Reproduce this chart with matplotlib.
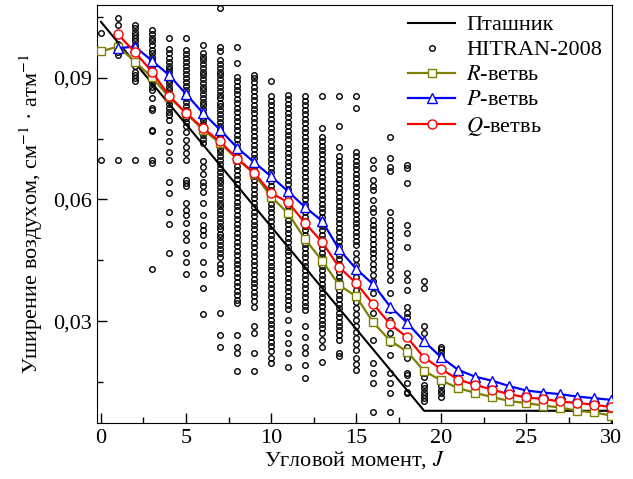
import numpy as np
import matplotlib
matplotlib.use('Agg')
import matplotlib.pyplot as plt
from matplotlib.ticker import MultipleLocator, FuncFormatter

plt.rcParams['font.family'] = ['Liberation Serif', 'DejaVu Serif']
plt.rcParams['mathtext.fontset'] = 'stix'
plt.rcParams['font.size'] = 16

# Пташник (model), values in 1e-3 cm-1 atm-1
ptash_j = [0, 19, 30]
ptash_g = [103.8, 7.9, 7.9]

# branches
r_j = list(range(0, 31))
r_g = [96.5, 97.7, 94.0, 90.1, 85.3, 81.3, 77.2, 73.9, 70.0, 66.4, 60.7, 56.6, 50.2, 44.9, 38.9, 36.1,
       29.7, 25.2, 22.5, 17.7, 15.4, 13.5, 12.3, 11.3, 10.3, 9.8, 9.2, 8.7, 7.9, 7.5, 6.7]
p_j = list(range(1, 31))
p_g = [97.3, 97.7, 94.2, 90.7, 86.0, 81.3, 77.2, 72.8, 69.2, 65.7, 62.0, 58.1, 54.7, 47.7, 42.9,
       39.1, 33.6, 29.6, 25.0, 21.1, 18.0, 16.3, 15.3, 14.0, 12.9, 12.4, 12.0, 11.4, 11.0, 10.6]
q_j = list(range(1, 31))
q_g = [100.7, 96.3, 91.5, 85.6, 81.3, 77.6, 74.3, 70.1, 66.6, 61.6, 59.3, 54.2, 49.5, 43.3, 39.4,
       34.2, 29.3, 26.0, 21.0, 18.2, 15.6, 14.3, 13.1, 12.0, 11.2, 10.8, 10.2, 9.8, 9.4, 8.8]

# HITRAN-2008 points, one list per J
hitran_00 = [101.0, 69.8]
hitran_01 = [104.7, 103.0, 98.4, 97.2, 96.3, 95.6, 69.8]
hitran_02 = [103.0, 102.2, 101.4, 100.6, 99.8, 99.0, 98.1, 97.3, 93.6, 92.8, 91.5, 90.7, 89.9, 89.1, 69.8]
hitran_03 = [101.8, 100.8, 99.8, 99.0, 98.1, 96.9, 96.1, 95.2, 94.4, 93.6, 92.8, 91.9, 91.1, 90.3, 89.5,
             88.6, 87.8, 87.0, 84.9, 82.5, 82.1, 77.2, 76.8, 69.8, 69.0, 42.8]
hitran_04 = [99.8, 97.0, 96.0, 95.0, 94.0, 93.0, 92.2, 91.4, 90.5, 89.5, 88.6, 87.8, 87.0, 86.1, 85.3,
             84.5, 83.5, 82.5, 81.6, 80.8, 79.6, 76.7, 74.5, 71.8, 69.8, 64.4, 61.6, 57.0, 53.9, 46.9]
hitran_05 = [99.8, 96.9, 95.9, 94.9, 93.9, 92.9, 91.9, 91.0, 90.0, 89.0, 88.0, 87.0, 86.0, 85.0, 84.0,
             83.0, 82.0, 81.0, 80.0, 79.0, 78.0, 76.7, 74.7, 73.0, 71.4, 69.8, 64.8, 64.0, 63.2, 59.2,
             57.3, 56.2, 54.2, 51.7, 49.9, 46.9, 44.7, 41.7]
hitran_06 = [98.1, 96.1, 95.2, 94.3, 93.3, 92.4, 91.5, 90.6, 89.6, 88.7, 87.8, 86.9, 85.9, 85.0, 84.1,
             83.2, 82.2, 81.3, 80.4, 79.5, 78.5, 77.6, 76.7, 75.8, 74.8, 73.9, 69.4, 68.0, 66.3, 64.2,
             63.4, 61.9, 59.2, 56.2, 53.7, 52.5, 51.3, 48.8, 44.7, 41.6, 38.1, 31.7]
hitran_07 = [107.2, 97.7, 96.5, 94.4, 93.4, 92.5, 91.5, 90.6, 89.6, 88.7, 87.7, 86.8, 85.8, 84.9, 83.9,
             83.0, 82.0, 81.1, 80.1, 79.2, 78.2, 77.3, 76.3, 75.4, 74.4, 73.5, 72.5, 71.6, 70.6, 69.7,
             68.7, 67.8, 66.8, 65.9, 64.9, 64.0, 63.0, 62.1, 61.1, 60.2, 59.2, 58.3, 57.3, 56.4, 55.4,
             54.5, 53.5, 52.6, 51.6, 50.7, 49.7, 48.8, 47.8, 46.9, 45.9, 44.0, 43.0, 41.9, 32.0, 26.6, 23.7]
hitran_08 = [97.7, 93.6, 90.3, 89.2, 88.1, 87.0, 85.9, 84.8, 83.7, 82.6, 81.5, 80.4, 79.3, 78.2, 77.1,
             76.0, 74.9, 73.8, 72.7, 71.6, 70.5, 69.4, 68.3, 67.2, 66.1, 65.0, 63.9, 62.8, 61.7, 60.6,
             59.5, 58.4, 57.3, 56.2, 55.1, 54.0, 52.9, 51.8, 50.7, 49.6, 48.5, 47.4, 46.3, 45.2, 44.1,
             43.0, 41.9, 40.8, 39.7, 38.6, 37.5, 36.4, 35.3, 34.4, 26.6, 23.7, 22.1, 17.6]
hitran_09 = [90.7, 90.0, 88.9, 87.8, 86.7, 85.6, 84.5, 83.4, 82.3, 81.2, 80.1, 79.0, 77.9, 76.8, 75.7,
             74.6, 73.5, 72.4, 71.3, 70.2, 69.1, 68.0, 66.9, 65.8, 64.7, 63.6, 62.5, 61.4, 60.3, 59.2,
             58.1, 57.0, 55.9, 54.8, 53.7, 52.6, 51.5, 50.4, 49.3, 48.2, 47.1, 46.0, 44.9, 43.8, 42.7,
             41.6, 40.5, 39.4, 38.3, 37.2, 36.1, 35.0, 33.6, 28.7, 27.0, 22.1, 17.6]
hitran_10 = [89.1, 85.4, 84.3, 83.2, 82.1, 81.0, 79.9, 78.8, 77.7, 76.6, 75.5, 74.4, 73.3, 72.2, 71.1,
             70.0, 68.9, 67.8, 66.7, 65.6, 64.5, 63.4, 62.3, 61.2, 60.1, 59.0, 57.9, 56.8, 55.7, 54.6,
             53.5, 52.4, 51.3, 50.2, 49.1, 48.0, 46.9, 45.8, 44.7, 43.6, 42.5, 41.4, 40.3, 39.2, 38.1,
             37.0, 35.9, 34.8, 33.7, 32.6, 31.5, 30.4, 29.3, 28.2, 27.1, 26.0, 24.9, 23.8, 22.7, 21.0, 19.7]
hitran_11 = [85.8, 84.7, 83.6, 82.5, 81.4, 80.3, 79.2, 78.1, 77.0, 75.9, 74.8, 73.7, 72.6, 71.5, 70.4,
             69.3, 68.2, 67.1, 66.0, 64.9, 63.8, 62.7, 61.6, 60.5, 59.4, 58.3, 57.2, 56.1, 55.0, 53.9,
             52.8, 51.7, 50.6, 49.5, 48.4, 47.3, 46.2, 45.1, 44.0, 42.9, 41.8, 40.7, 39.6, 38.5, 37.4,
             36.3, 35.2, 34.1, 33.0, 30.3, 27.1, 24.6, 22.2, 18.8]
hitran_12 = [85.4, 84.3, 83.2, 82.1, 81.0, 79.9, 78.8, 77.7, 76.6, 75.5, 74.4, 73.3, 72.2, 71.1, 70.0,
             68.9, 67.8, 66.7, 65.6, 64.5, 63.4, 62.3, 61.2, 60.1, 59.0, 57.9, 56.8, 55.7, 54.6, 53.5,
             52.4, 51.3, 50.2, 49.1, 48.0, 46.9, 45.8, 44.7, 43.6, 42.5, 41.4, 40.3, 39.2, 38.1, 37.0,
             35.9, 34.8, 33.7, 32.8, 28.7, 26.2, 23.7, 22.1, 19.2, 15.9]
hitran_13 = [85.4, 77.6, 75.5, 74.4, 73.3, 72.2, 71.1, 70.0, 68.9, 67.8, 66.7, 65.6, 64.5, 63.4, 62.3,
             61.2, 60.1, 59.0, 57.9, 56.8, 55.7, 54.6, 53.5, 52.4, 51.3, 50.2, 49.1, 48.0, 46.9, 45.8,
             44.7, 43.6, 42.5, 41.4, 40.3, 39.2, 38.1, 37.0, 35.9, 34.8, 33.7, 32.6, 31.5, 30.4, 29.3,
             28.2, 27.1, 25.4, 23.7, 20.0]
hitran_14 = [85.4, 78.0, 73.0, 70.6, 69.5, 68.4, 67.3, 66.2, 65.1, 64.0, 62.9, 61.8, 60.7, 59.6, 58.5,
             57.4, 56.3, 55.2, 54.1, 53.0, 51.9, 50.8, 49.7, 48.6, 47.5, 46.4, 45.3, 44.2, 43.1, 42.0,
             40.9, 39.8, 38.7, 37.6, 36.5, 35.4, 34.3, 33.2, 32.1, 31.0, 29.9, 28.8, 27.7, 26.6, 25.4,
             22.1, 21.3]
hitran_15 = [85.4, 82.5, 71.8, 70.7, 69.6, 68.5, 67.4, 66.3, 65.2, 64.1, 63.0, 61.9, 60.8, 59.7, 58.6,
             57.5, 56.4, 55.3, 54.2, 53.1, 52.0, 50.9, 49.8, 48.7, 46.8, 45.3, 43.8, 42.3, 40.8, 39.3,
             37.8, 36.3, 34.8, 33.3, 31.8, 30.3, 28.8, 27.3, 25.8, 24.3, 22.8, 21.0, 19.5, 18.0]
hitran_16 = [69.8, 67.7, 64.8, 63.2, 62.4, 59.9, 57.9, 56.8, 55.0, 53.8, 52.6, 51.4, 50.2, 49.0, 47.9,
             46.8, 45.6, 44.2, 42.8, 41.3, 39.8, 38.3, 36.9, 32.0, 25.4, 19.6, 17.2, 14.7, 7.5]
hitran_17 = [75.5, 70.2, 68.1, 66.9, 57.0, 55.0, 53.8, 52.5, 51.2, 50.0, 48.7, 47.4, 46.1, 44.8, 43.5,
             41.8, 40.2, 36.9, 32.8, 30.3, 27.0, 24.6, 21.7, 17.2, 14.7, 12.3, 7.5]
hitran_18 = [68.5, 67.7, 64.0, 53.7, 51.7, 48.4, 41.8, 40.2, 37.7, 33.6, 32.0, 31.1, 23.7, 22.5, 20.9,
             17.2, 16.8, 14.7, 12.6, 12.3]
hitran_19 = [39.8, 38.1, 28.7, 27.0, 17.2, 16.3, 14.3, 13.5, 12.6, 11.8, 11.0, 10.2]
hitran_20 = [23.7, 23.1, 22.5, 21.3, 13.9, 13.1, 12.3, 11.4]

hitran_cols = [hitran_00, hitran_01, hitran_02, hitran_03, hitran_04, hitran_05, hitran_06,
               hitran_07, hitran_08, hitran_09, hitran_10, hitran_11, hitran_12, hitran_13,
               hitran_14, hitran_15, hitran_16, hitran_17, hitran_18, hitran_19, hitran_20]
hx = []
hy = []
for j, col in enumerate(hitran_cols):
    hx += [j] * len(col)
    hy += col
hx = np.array(hx)
hy = np.array(hy) * 1e-3

fig = plt.figure(figsize=(6.33, 4.79), dpi=100)
ax = fig.add_axes([0.153, 0.117, 0.814, 0.873])

ax.plot(hx, hy, linestyle='none', marker='o', ms=4, mfc='none', mec='black', mew=1.0,
        label='HITRAN-2008', zorder=2)
ax.plot(ptash_j, np.array(ptash_g) * 1e-3, color='black', lw=1.5, label='Пташник', zorder=3)
ax.plot(r_j, np.array(r_g) * 1e-3, color='#808000', lw=1.6, marker='s', ms=5.5, mfc='white',
        mec='#808000', mew=1.0, label='$R$-ветвь', zorder=4)
ax.plot(p_j, np.array(p_g) * 1e-3, color='#0000ff', lw=1.6, marker='^', ms=7, mfc='white',
        mec='#0000ff', mew=1.0, label='$P$-ветвь', zorder=5)
ax.plot(q_j, np.array(q_g) * 1e-3, color='#ff0000', lw=1.6, marker='o', ms=6.5, mfc='white',
        mec='#ff0000', mew=1.0, label='$Q$-ветвь', zorder=6)

ax.set_xlim(-0.24, 30.05)
ax.set_ylim(0.0049, 0.108)
ax.xaxis.set_major_locator(MultipleLocator(5))
ax.xaxis.set_minor_locator(MultipleLocator(2.5))
ax.yaxis.set_major_locator(MultipleLocator(0.03))
ax.yaxis.set_minor_locator(MultipleLocator(0.015))
ax.yaxis.set_major_formatter(FuncFormatter(lambda v, p: ('%.2f' % v).replace('.', ',')))
ax.tick_params(which='both', direction='in', labelsize=16)
ax.tick_params(which='major', length=7, width=1)
ax.tick_params(which='minor', length=4, width=1)
ax.tick_params(axis='x', pad=4)

ax.set_xlabel('Угловой момент, $J$', fontsize=16, labelpad=1)
ax.set_ylabel('Уширение воздухом, см$^{-1}$ · атм$^{-1}$', fontsize=16, labelpad=6)

handles, labels = ax.get_legend_handles_labels()
order = [1, 0, 2, 3, 4]
ax.legend([handles[i] for i in order], [labels[i] for i in order], loc='upper right',
          frameon=False, numpoints=1, handlelength=2.1, handletextpad=0.5, labelspacing=0.2,
          borderaxespad=0.05, fontsize=16)

fig.savefig('out.png', dpi=100)
